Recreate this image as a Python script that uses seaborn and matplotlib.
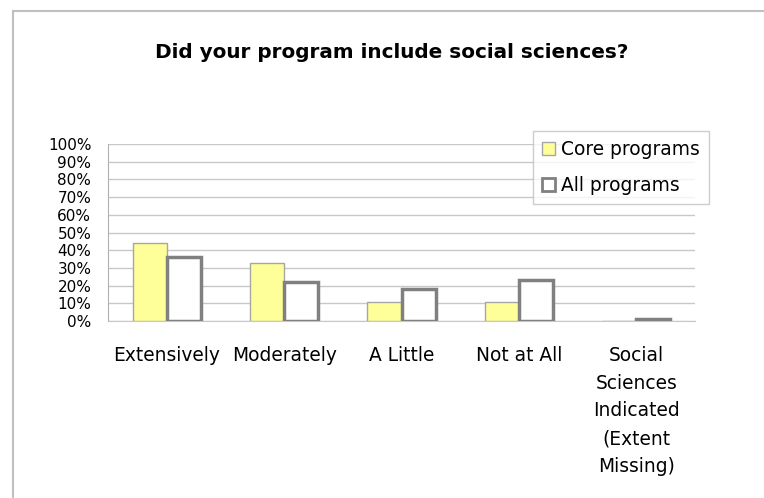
import numpy as np
import matplotlib
matplotlib.use("Agg")
import matplotlib.pyplot as plt
from matplotlib.patches import Patch
from matplotlib.lines import Line2D
import pandas as pd
import seaborn as sns

categories = ["Extensively", "Moderately", "A Little", "Not at All",
              "Social\nSciences\nIndicated\n(Extent\nMissing)"]
core = [44, 33, 11, 11, 0]
all_programs = [36, 22, 18, 23, 1]
series = ["Core programs", "All programs"]
yticks = list(range(0, 101, 10))

df = pd.DataFrame({
    "category": categories * 2,
    "value": core + all_programs,
    "series": [series[0]] * len(categories) + [series[1]] * len(categories),
})

sns.set_style("white")
plt.rcParams["font.family"] = ["DejaVu Sans"]
plt.rcParams["text.color"] = "black"
plt.rcParams["xtick.color"] = "black"
plt.rcParams["ytick.color"] = "black"

fig = plt.figure(figsize=(7.64, 4.98), dpi=100)
ax = fig.add_axes([108 / 764, 1 - 321 / 498, (695 - 108) / 764, (321 - 144) / 498])

sns.barplot(data=df, x="category", y="value", hue="series", order=categories,
            hue_order=series, width=0.58, gap=0, ax=ax, legend=False)

faces = ["#FFFF99", "#FFFFFF"]
edges = ["#A6A6A6", "#808080"]
widths = [1.0, 2.5]
for cont, fc, ec, lw in zip(ax.containers, faces, edges, widths):
    for p in cont.patches:
        p.set_facecolor(fc)
        p.set_edgecolor(ec)
        p.set_linewidth(lw)
        p.set_zorder(3)

ax.set_ylim(0, 100)
ax.set_yticks(yticks)
ax.set_yticklabels([f"{t}%" for t in yticks])
ax.set_xlabel("")
ax.set_ylabel("")
ax.yaxis.grid(True, color="#C8C8C8", linewidth=1, zorder=0)
ax.set_axisbelow(True)
for s in ["top", "right"]:
    ax.spines[s].set_visible(False)
ax.spines["left"].set_color("#B0B0B0")
ax.spines["bottom"].set_color("#C8C8C8")
ax.tick_params(axis="y", length=0, pad=12, labelsize=11, labelcolor="black")
ax.tick_params(axis="x", length=0, pad=18, labelsize=13.4, labelcolor="black")
for lab in ax.get_xticklabels():
    lab.set_linespacing(1.58)
    lab.set_va("top")
    lab.set_ha("center")

fig.text(392 / 764, 1 - 52 / 498, "Did your program include social sciences?",
         ha="center", va="center", fontsize=14.4, fontweight="bold", color="black")

handles = [Patch(facecolor=faces[0], edgecolor=edges[0], linewidth=1),
           Patch(facecolor=faces[1], edgecolor=edges[1], linewidth=2)]
leg = fig.legend(handles, series, loc="upper left",
                 bbox_to_anchor=(533 / 764, 1 - 131 / 498), fontsize=13.4,
                 frameon=True, fancybox=False, shadow=False,
                 handlelength=0.7, handleheight=0.7, handletextpad=0.3,
                 labelspacing=0.9, borderpad=0.5, borderaxespad=0)
leg.get_frame().set_edgecolor("#C0C0C0")
leg.get_frame().set_linewidth(1)
for t in leg.get_texts():
    t.set_color("black")

# outer chart border (left and top edges only visible)
fig.add_artist(Line2D([13 / 764, 13 / 764], [0, 1 - 11 / 498],
                      transform=fig.transFigure, color="#C0C0C0", lw=1.5))
fig.add_artist(Line2D([13 / 764, 1], [1 - 11 / 498, 1 - 11 / 498],
                      transform=fig.transFigure, color="#C0C0C0", lw=1.5))

fig.savefig("out.png", dpi=100, facecolor="white")
